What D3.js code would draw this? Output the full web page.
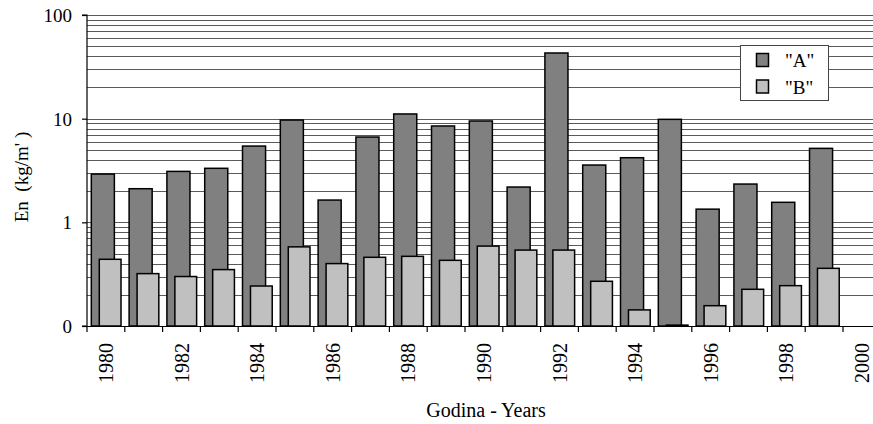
<!DOCTYPE html>
<html>
<head>
<meta charset="utf-8">
<script src="https://cdn.jsdelivr.net/npm/d3@7/dist/d3.min.js"></script>
<style>
  html, body { margin: 0; padding: 0; background: #fff; }
  text { font-family: "Liberation Serif", "Times New Roman", serif; fill: #000; }
</style>
</head>
<body>
<svg id="chart" width="873" height="424"></svg>
<script>
// ---- data ----
const years = [1980,1981,1982,1983,1984,1985,1986,1987,1988,1989,1990,1991,1992,1993,1994,1995,1996,1997,1998,1999,2000];
const seriesA = [2.92,2.11,3.10,3.32,5.44,9.7,1.64,6.65,11.1,8.5,9.5,2.19,43,3.57,4.2,9.85,1.34,2.34,1.56,5.17,null];
const seriesB = [0.44,0.32,0.30,0.35,0.243,0.58,0.40,0.46,0.47,0.43,0.59,0.54,0.54,0.27,0.143,0.102,0.157,0.226,0.245,0.36,null];
const seriesNames = ['"A"', '"B"'];
const yTickValues = [0.1, 1, 10, 100];
const yTickLabels = ["0", "1", "10", "100"];
const xLabelYears = [1980,1982,1984,1986,1988,1990,1992,1994,1996,1998,2000];
const gridValues = [];
[0.1, 1, 10].forEach(d => { for (let k = 2; k <= 9; k++) gridValues.push(+(d * k).toPrecision(3)); });
gridValues.push(1, 10, 100);

const colorA = "#808080", colorB = "#c0c0c0";

// ---- layout ----
const svg = d3.select("#chart");
const pL = 87, pT = 15, pB = 326, pR = 873;

const x = d3.scaleBand().domain(years).range([pL, pL + 21 * 37.8]).paddingInner(0).paddingOuter(0);
const y = d3.scaleLog().domain([0.1, 100]).range([pB, pT]);
const bw = x.bandwidth();

// gridlines
svg.append("g").selectAll("line").data(gridValues).join("line")
  .attr("x1", pL).attr("x2", pR)
  .attr("y1", d => Math.round(y(d)) + 0.5).attr("y2", d => Math.round(y(d)) + 0.5)
  .attr("stroke", "#5a5a5a").attr("stroke-width", 1.1);

// bars A
svg.append("g").selectAll("rect").data(years.map((yr, i) => ({yr, v: seriesA[i]})).filter(d => d.v != null))
  .join("rect")
  .attr("x", d => x(d.yr) + bw * 0.114)
  .attr("width", bw * 0.61)
  .attr("y", d => y(d.v))
  .attr("height", d => pB - y(d.v))
  .attr("fill", colorA).attr("stroke", "#000").attr("stroke-width", 1.5);

// bars B
svg.append("g").selectAll("rect").data(years.map((yr, i) => ({yr, v: seriesB[i]})).filter(d => d.v != null))
  .join("rect")
  .attr("x", d => x(d.yr) + bw * 0.325)
  .attr("width", bw * 0.575)
  .attr("y", d => y(d.v))
  .attr("height", d => pB - y(d.v))
  .attr("fill", colorB).attr("stroke", "#000").attr("stroke-width", 1.5);

// y axis
const yAxis = d3.axisLeft(y).tickValues(yTickValues).tickSize(5)
  .tickFormat((d, i) => yTickLabels[i]);
const gy = svg.append("g").attr("transform", `translate(${pL},0)`).call(yAxis);
gy.select(".domain").attr("stroke", "#000").attr("stroke-width", 1.2).attr("d", `M-5,${pT}H0V${pB}H-5`);
gy.selectAll(".tick line").attr("stroke", "#000").attr("stroke-width", 1.2);
gy.selectAll(".tick text")
  .attr("x", -15).attr("dy", "0.34em")
  .style("font-family", '"Liberation Serif", serif').style("font-size", "19px").attr("fill", "#000");

// x axis
const gx = svg.append("g").attr("transform", `translate(0,${pB})`);
gx.append("line").attr("x1", pL - 5).attr("x2", pR).attr("y1", 0.5).attr("y2", 0.5)
  .attr("stroke", "#000").attr("stroke-width", 1.2);
gx.selectAll("line.tk").data(years).join("line").attr("class", "tk")
  .attr("x1", d => x(d)).attr("x2", d => x(d)).attr("y1", 0).attr("y2", 6)
  .attr("stroke", "#000").attr("stroke-width", 1.2);
gx.selectAll("text").data(xLabelYears).join("text")
  .attr("transform", d => `translate(${x(d) + bw / 2 + 7},${17}) rotate(-90)`)
  .attr("text-anchor", "end")
  .style("font-size", "20px")
  .text(d => d);

// axis titles
svg.append("text").attr("x", 486).attr("y", 417).attr("text-anchor", "middle")
  .style("font-size", "20px").text("Godina - Years");
svg.append("text").attr("transform", "translate(28,177) rotate(-90)").attr("text-anchor", "middle")
  .attr("xml:space", "preserve")
  .style("font-size", "19px").text("En  (kg/m' )");

// legend
const lg = svg.append("g");
lg.append("rect").attr("x", 740.5).attr("y", 45.5).attr("width", 88).attr("height", 55)
  .attr("fill", "#fff").attr("stroke", "#444").attr("stroke-width", 1);
[colorA, colorB].forEach((c, i) => {
  lg.append("rect").attr("x", 756.5).attr("y", 53.5 + i * 26.5).attr("width", 12).attr("height", 13)
    .attr("fill", c).attr("stroke", "#000").attr("stroke-width", 1.5);
  lg.append("text").attr("x", 785).attr("y", 67 + i * 26.5).style("font-size", "19px").text(seriesNames[i]);
});
</script>
</body>
</html>
